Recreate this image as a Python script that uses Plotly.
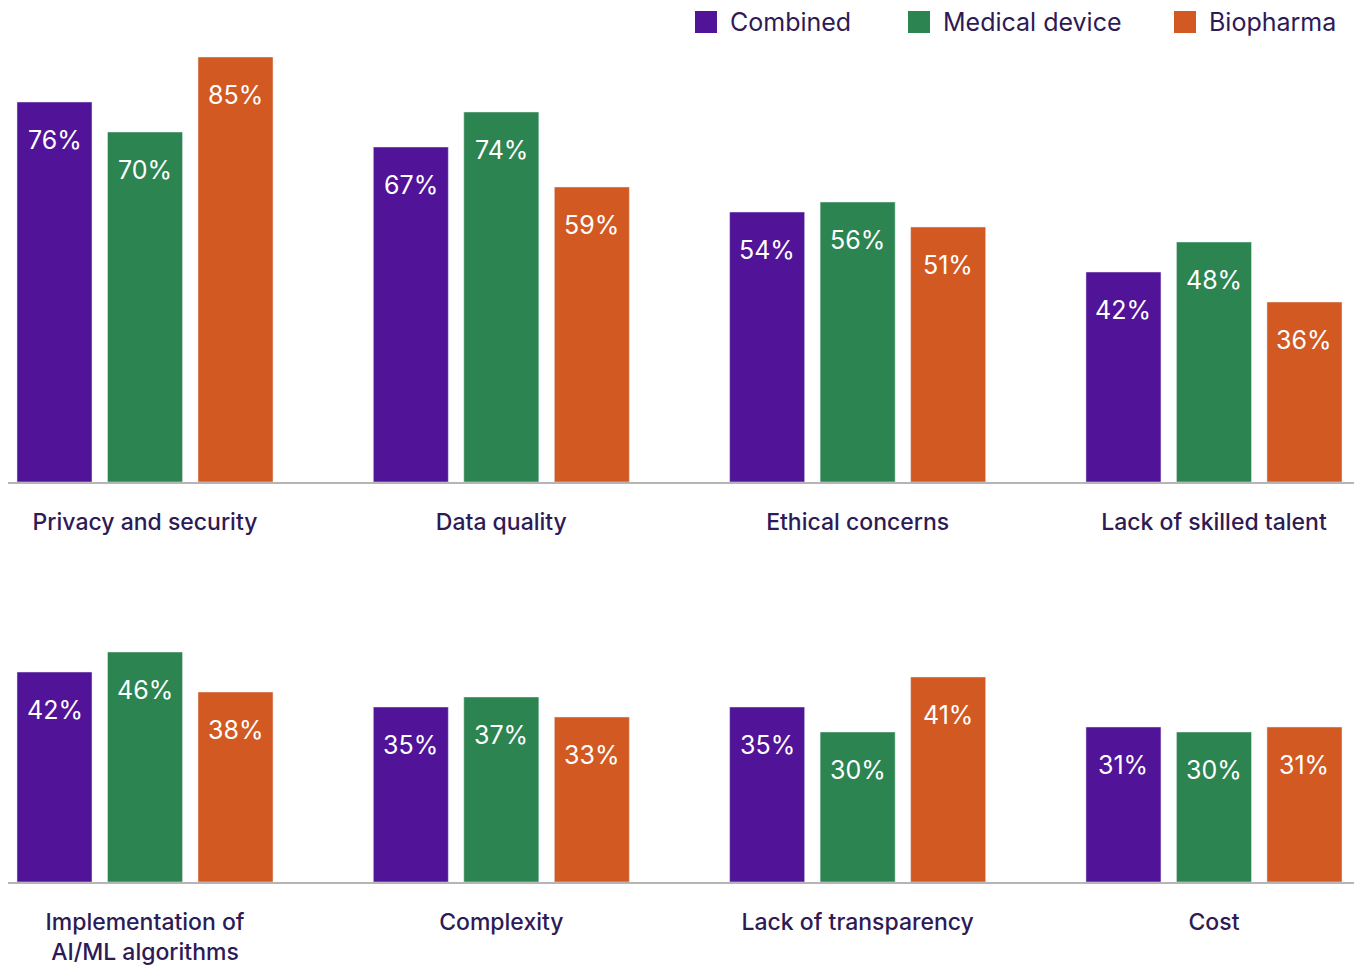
import plotly.graph_objects as go

# ---- data ----
top_categories = ["Privacy and security", "Data quality", "Ethical concerns", "Lack of skilled talent"]
bottom_categories = ["Implementation of<br>AI/ML algorithms", "Complexity", "Lack of transparency", "Cost"]
series_names = ["Combined", "Medical device", "Biopharma"]
top_combined = [76, 67, 54, 42]
top_medical = [70, 74, 56, 48]
top_biopharma = [85, 59, 51, 36]
bottom_combined = [42, 35, 35, 31]
bottom_medical = [46, 37, 30, 30]
bottom_biopharma = [38, 33, 41, 31]

colors = ["#511397", "#2C8450", "#D25922"]
text_color = "#2E1A55"
FONT = "Inter"

BARGAP = 0.238
BARGROUPGAP = 0.171
W, H = 1354, 968
ML = 8

fig = go.Figure()

top_series = [top_combined, top_medical, top_biopharma]
bottom_series = [bottom_combined, bottom_medical, bottom_biopharma]
xs = list(range(len(top_categories)))

annotations = []
shapes = []
slot = (1 - BARGAP) / 3
for j, name in enumerate(series_names):
    fig.add_trace(go.Bar(x=xs, y=top_series[j], name=name, marker_color=colors[j],
                         xaxis="x", yaxis="y", showlegend=False, hoverinfo="skip"))
    fig.add_trace(go.Bar(x=xs, y=bottom_series[j], name=name, marker_color=colors[j],
                         xaxis="x2", yaxis="y2", showlegend=False, hoverinfo="skip"))
    for i in xs:
        xpos = i + (j - 1) * slot
        annotations.append(dict(x=xpos, y=top_series[j][i], xref="x", yref="y",
                                text=f"{top_series[j][i]}%", showarrow=False,
                                yanchor="middle", yshift=-38,
                                font=dict(family=FONT, size=25, color="white")))
        annotations.append(dict(x=xpos, y=bottom_series[j][i], xref="x2", yref="y2",
                                text=f"{bottom_series[j][i]}%", showarrow=False,
                                yanchor="middle", yshift=-38,
                                font=dict(family=FONT, size=25, color="white")))

def py(px):
    return 1 - px / H

def px_x(px):
    return (px - ML) / (W - ML)

# custom legend (large square swatches)
legend_square_left = [695, 908, 1174]
for j, name in enumerate(series_names):
    x0 = legend_square_left[j]
    shapes.append(dict(type="rect", xref="paper", yref="paper",
                       x0=px_x(x0), x1=px_x(x0 + 22), y0=py(33), y1=py(11),
                       fillcolor=colors[j], line=dict(width=0)))
    annotations.append(dict(x=px_x(x0 + 33), y=py(22), xref="paper", yref="paper",
                            text=name, showarrow=False, xanchor="left", yanchor="middle",
                            font=dict(family=FONT, size=25, color=text_color)))

xrange = [-0.3845, 3.393]
axis_common = dict(range=xrange, showgrid=False, zeroline=False, showline=True,
                   linecolor="#B5B5B5", linewidth=2, ticks="", tickvals=xs,
                   tickfont=dict(family=FONT, size=23, color=text_color, weight=500),
                   ticklabelstandoff=18, fixedrange=True)

fig.update_layout(
    width=W, height=H,
    margin=dict(l=ML, r=0, t=0, b=0),
    paper_bgcolor="white", plot_bgcolor="white",
    barmode="group", bargap=BARGAP, bargroupgap=BARGROUPGAP,
    font=dict(family=FONT, color=text_color),
    xaxis=dict(anchor="y", ticktext=top_categories, **axis_common),
    xaxis2=dict(anchor="y2", ticktext=bottom_categories, **axis_common),
    yaxis=dict(domain=[py(482), py(32)], range=[0, 90], visible=False, fixedrange=True),
    yaxis2=dict(domain=[py(882), py(582)], range=[0, 60], visible=False, fixedrange=True),
    showlegend=False,
    shapes=shapes,
    annotations=annotations,
)

fig.write_html("out.html")
